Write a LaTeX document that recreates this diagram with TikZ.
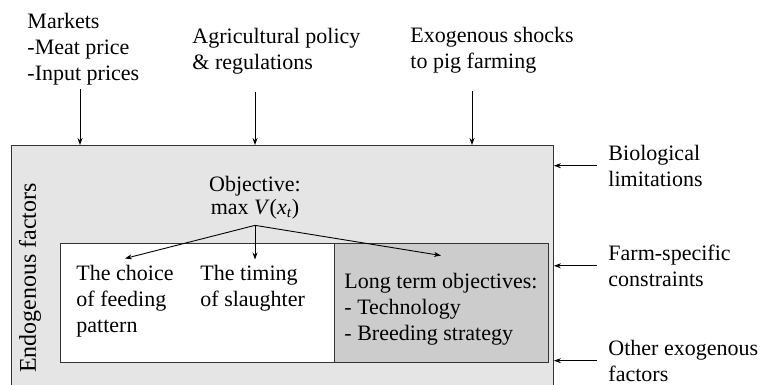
\documentclass[tikz,border=0pt]{standalone}
\usepackage{fontspec}
\setmainfont{Liberation Serif}
\usetikzlibrary{arrows.meta}

\begin{document}
\begin{tikzpicture}[x=1pt,y=-1pt,line width=0.9pt,
        >={Stealth[length=7pt,width=5pt]},
        lbl/.style={font=\fontsize{22}{26}\selectfont, align=left, inner sep=0pt},
        box/.style={draw=black!80, inner sep=0pt, anchor=north west}]
    \path[use as bounding box, clip] (0,0) rectangle (770,385);

    % frame of the farm and the two inner boxes
    \node[box, fill=black!10, minimum width=542pt, minimum height=250pt] (farm) at (11,145) {};
    \node[box, fill=white, minimum width=274pt, minimum height=119pt] (short) at (60,243) {};
    \node[box, fill=black!20, minimum width=214pt, minimum height=119pt] (long) at (334,243) {};

    % outside influences
    \node[lbl, anchor=north west] (markets) at (27,12.5) {Markets\\-Meat price\\-Input prices};
    \node[lbl, anchor=north west] (policy) at (192,27.5) {Agricultural policy\\\& regulations};
    \node[lbl, anchor=north west] (shocks) at (410,26.5) {Exogenous shocks\\to pig farming};
    \node[lbl, anchor=north west] (bio) at (608,144.5) {Biological\\limitations};
    \node[lbl, anchor=north west] (constr) at (608,244.5) {Farm-specific\\constraints};
    \node[lbl, anchor=north west] (other) at (608,339.5) {Other exogenous\\factors};

    \draw[->, shorten <=4pt] ([xshift=53pt]markets.south west) -- ([xshift=53pt]markets.south west |- farm.north);
    \draw[->, shorten <=18pt] ([xshift=63pt]policy.south west) -- ([xshift=63pt]policy.south west |- farm.north);
    \draw[->, shorten <=18pt] ([xshift=62pt]shocks.south west) -- ([xshift=62pt]shocks.south west |- farm.north);
    \draw[->, shorten <=11pt] (bio.west) -- (bio.west -| farm.east);
    \draw[->, shorten <=11pt] (constr.west) -- (constr.west -| farm.east);
    \draw[->, shorten <=11pt] (other.west) -- (other.west -| farm.east);

    % inside the farm
    \node[lbl, rotate=90, font=\fontsize{24}{28}\selectfont] (endo) at (30,278) {Endogenous factors};
    \node[lbl, anchor=north, align=center, font=\fontsize{22}{23}\selectfont] (obj) at (255,175.5)
        {Objective:\\max \textit{V}(\textit{x}\textsubscript{\textit{t}})};
    \node[lbl, anchor=north west] (choice) at (76,264.5) {The choice\\of feeding\\pattern};
    \node[lbl, anchor=north west] (timing) at (200,264.5) {The timing\\of slaughter};
    \node[lbl, anchor=north west] (goals) at (344,272.5) {Long term objectives:\\- Technology\\- Breeding strategy};

    \coordinate (apex) at ([yshift=-6pt]obj.south);
    \draw[->] (apex) -- ([yshift=6pt]choice.north);
    \draw[->, shorten >=5pt] (apex) -- (apex |- timing.north);
    \draw[->] (apex) -- ([yshift=17pt]goals.north);
\end{tikzpicture}
\end{document}
